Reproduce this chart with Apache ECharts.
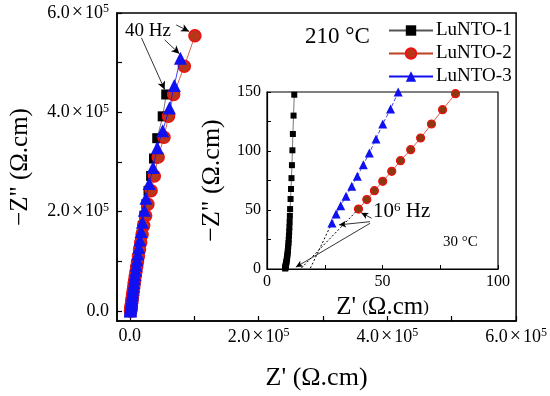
<!DOCTYPE html>
<html>
<head>
<meta charset="utf-8">
<script src="https://cdn.jsdelivr.net/npm/echarts@6/dist/echarts.min.js"></script>
<style>html,body{margin:0;padding:0;background:#fff}#c{width:550px;height:396px}</style>
</head>
<body>
<div id="c"></div>
<script>
// ---- data (main plot, 210 °C) : [Z', -Z''] in Ω.cm ----
const seriesNames = ['LuNTO-1', 'LuNTO-2', 'LuNTO-3'];
const main1 = [[56500,436000],[51000,392000],[42500,348000],[37500,307000],[33000,272000],[29000,242000],[25500,215000],[22500,192000],[20000,172000],[18000,154000],[16000,138000],[14300,124000],[12800,111000],[11400,99000],[10200,89000],[9100,79000],[8100,71000],[7200,63000],[6400,56000],[5700,49000],[5000,43000],[4500,37000],[4000,32000],[3500,27000],[3100,23000],[2700,19000],[2300,15000],[2000,12000],[1700,9000],[1500,6500],[1300,4500],[1100,2800],[1000,1500],[900,600],[800,100]];
const main2 = [[101000,554000],[84600,493000],[68000,436000],[60000,392000],[53000,350000],[44000,310000],[38000,272000],[33000,242000],[28000,215000],[24500,192000],[21500,172000],[19000,154000],[16800,138000],[15000,124000],[13300,111000],[11800,99000],[10500,89000],[9400,79000],[8400,71000],[7500,63000],[6700,56000],[6000,49000],[5300,43000],[4700,37000],[4200,32000],[3700,27000],[3300,23000],[2900,19000],[2500,15000],[2200,12000],[1900,9000],[1700,6500],[1500,4500],[1300,2800],[1200,1500],[1100,600],[1000,100]];
const main3 = [[78500,509000],[69000,454000],[61500,409000],[51000,363000],[42500,329000],[36000,289000],[30000,257000],[25000,227000],[22500,203000],[19500,179000],[17500,160000],[15500,143000],[14000,128000],[12500,115000],[11200,103000],[10000,92000],[9000,82000],[8000,73000],[7200,65000],[6400,57000],[5700,50000],[5000,44000],[4400,38000],[3800,33000],[3400,28000],[3000,24000],[2600,20000],[2200,16000],[1900,13000],[1600,10000],[1400,7500],[1200,5500],[1000,3500],[900,2000],[800,800],[700,200]];
// ---- data (inset, 30 °C) ----
const inset1 = [[11.8,147.7],[11.5,130],[11.2,114.4],[11.0,100.6],[10.8,88],[10.6,77],[10.4,67.8],[10.2,59.3],[10.0,50.8],[9.9,45],[9.8,40],[9.7,35.5],[9.6,31.5],[9.5,28],[9.4,24.8],[9.3,22],[9.2,19.5],[9.1,17.2],[9.0,15.1],[8.9,13.2],[8.8,11.5],[8.7,9.9],[8.6,8.5],[8.5,7.2],[8.4,6],[8.3,4.9],[8.2,3.9],[8.1,3],[8.0,2.2],[8.0,1.5],[7.9,0.9],[7.9,0.4]];
const inset2 = [[81.6,148.6],[76,135],[71.2,122.9],[66.5,111],[62.2,101.1],[57.8,91.8],[54,82.8],[50.1,74.3],[46.5,66.4],[43.2,58.8],[39.6,50.8]];
const inset3 = [[56.8,150],[53.5,135.6],[50.1,122.9],[47.2,110.2],[44.3,98.3],[41.7,88.4],[39.1,78.5],[36.7,70.1],[34.2,61.6],[31.9,53.7],[29.9,46.6],[28.1,39]];
// ---- ticks ----
const mainTicks = [0,100000,200000,300000,400000,500000,600000];
const mainLabels = [0,200000,400000,600000];
const insetXLabels = [0,50,100];
const insetYLabels = [0,50,100,150];
// ---- annotations (data coordinates) ----
const mainArrows = [[[18000,550000],[54000,446000]],[[54000,546000],[77000,518000]],[[72000,576000],[92000,563000]]];
const insetArrows = [[[45.3,43],[40.8,47.6]],[[44.6,40.1],[31.2,37.4]],[[44.6,38.7],[12.5,1.6]]];
const insetExtrap = [[[28.1,39],[18.6,0]],[[39.6,50.8],[14.5,0]]];

const FF = '"Liberation Serif","Times New Roman",serif';
const BLACK = '#000';
const RED_FILL = '#b8361a', RED_EDGE = '#ee1111';
const BLUE = '#1010f0';

function sci(v){
  if (v === 0) return '{a|0.0}';
  const m = (v/100000).toFixed(1);
  return '{a|' + m + '}{x|×}{a|10}{s|5}';
}
const sciRich = {
  a:{fontFamily:FF,fontSize:18,color:BLACK},
  x:{fontFamily:FF,fontSize:20,color:BLACK,padding:[0,2,0,2]},
  s:{fontFamily:FF,fontSize:12,color:BLACK,verticalAlign:'top'}
};

function arrowLines(list){ return list.map(p => [{coord:p[0]},{coord:p[1]}]); }

const chart = echarts.init(document.getElementById('c'), null, {renderer:'canvas'});
const option = {
  backgroundColor:'#fff',
  animation:false,
  textStyle:{fontFamily:FF},
  grid:[
    {left:117, top:13, width:400, height:310, show:true, borderColor:BLACK, borderWidth:1.5, backgroundColor:'transparent'},
    {left:267, top:92, width:231, height:177, show:true, borderColor:BLACK, borderWidth:1.2, backgroundColor:'#fff'}
  ],
  legend:{
    left:383, top:16, orient:'vertical', itemWidth:44, itemHeight:13, itemGap:4,
    textStyle:{fontFamily:FF, fontSize:19, color:BLACK, lineHeight:19, padding:[0,0,0,-2]},
    data:seriesNames
  },
  xAxis:[
    {gridIndex:0, type:'value', min:-20000, max:600000,
     axisLine:{show:true,onZero:false,lineStyle:{color:BLACK,width:1.5}},
     axisTick:{show:true,inside:true,length:5,customValues:mainTicks,lineStyle:{color:BLACK,width:1.2}},
     axisLabel:{customValues:mainLabels, margin:6, formatter:sci, rich:sciRich},
     splitLine:{show:false},
     name:'{n|Z\' (Ω.cm)}', nameLocation:'middle', nameGap:44,
     nameTextStyle:{rich:{n:{fontFamily:FF,fontSize:26,color:BLACK}}}},
    {gridIndex:1, type:'value', min:0, max:100, interval:25,
     axisLine:{show:true,onZero:false,lineStyle:{color:BLACK,width:1.2}},
     axisTick:{show:true,inside:true,length:4,lineStyle:{color:BLACK}},
     axisLabel:{customValues:insetXLabels, margin:5, fontFamily:FF, fontSize:16, color:BLACK},
     splitLine:{show:false},
     name:'{n|Z\' }{p|(}{n|Ω.cm}{p|)}', nameLocation:'middle', nameGap:26,
     nameTextStyle:{rich:{n:{fontFamily:FF,fontSize:25,color:BLACK},p:{fontFamily:FF,fontSize:17,color:BLACK}}}}
  ],
  yAxis:[
    {gridIndex:0, type:'value', min:-20000, max:600000,
     axisLine:{show:true,onZero:false,lineStyle:{color:BLACK,width:1.5}},
     axisTick:{show:true,inside:true,length:5,customValues:mainTicks,lineStyle:{color:BLACK,width:1.2}},
     axisLabel:{customValues:mainLabels, margin:8, formatter:sci, rich:sciRich},
     splitLine:{show:false},
     name:'−Z" (Ω.cm)', nameLocation:'middle', nameGap:84,
     nameTextStyle:{fontFamily:FF,fontSize:25,color:BLACK}},
    {gridIndex:1, type:'value', min:0, max:150, interval:25,
     axisLine:{show:true,onZero:false,lineStyle:{color:BLACK,width:1.2}},
     axisTick:{show:true,inside:true,length:4,lineStyle:{color:BLACK}},
     axisLabel:{customValues:insetYLabels, margin:6, fontFamily:FF, fontSize:16, color:BLACK},
     splitLine:{show:false},
     name:'−Z" (Ω.cm)', nameLocation:'middle', nameGap:42,
     nameTextStyle:{fontFamily:FF,fontSize:26,color:BLACK}}
  ],
  series:[
    {name:seriesNames[0], type:'line', xAxisIndex:0, yAxisIndex:0, data:main1,
     symbol:'rect', symbolSize:10, itemStyle:{color:BLACK}, lineStyle:{color:'#555',width:0.8}, z:2,
     markLine:{silent:true, symbol:['none','arrow'], symbolSize:[6,8], label:{show:false},
       lineStyle:{color:BLACK,width:0.8,type:'solid'}, data:arrowLines(mainArrows)}},
    {name:seriesNames[1], type:'line', xAxisIndex:0, yAxisIndex:0, data:main2,
     symbol:'circle', symbolSize:12, itemStyle:{color:RED_FILL,borderColor:RED_EDGE,borderWidth:1.5}, lineStyle:{color:'#c04020',width:0.8}, z:3},
    {name:seriesNames[2], type:'line', xAxisIndex:0, yAxisIndex:0, data:main3,
     symbol:'triangle', symbolSize:13, itemStyle:{color:BLUE}, lineStyle:{color:BLUE,width:0.8}, z:4},
    {name:seriesNames[0], type:'line', xAxisIndex:1, yAxisIndex:1, data:inset1,
     symbol:'rect', symbolSize:6, itemStyle:{color:BLACK}, lineStyle:{color:'#555',width:0.8}, z:5,
     markLine:{silent:true, symbol:['none','arrow'], symbolSize:[5,7], label:{show:false},
       lineStyle:{color:BLACK,width:0.8,type:'solid'}, data:arrowLines(insetArrows)}},
    {name:seriesNames[1], type:'line', xAxisIndex:1, yAxisIndex:1, data:inset2,
     symbol:'circle', symbolSize:8, itemStyle:{color:'#8a3a10',borderColor:RED_EDGE,borderWidth:1.2}, lineStyle:{color:'#e03020',width:0.8}, z:5,
     markLine:{silent:true, symbol:['none','none'], label:{show:false},
       lineStyle:{color:BLACK,width:1,type:[2,2]}, data:arrowLines(insetExtrap)}},
    {name:seriesNames[2], type:'line', xAxisIndex:1, yAxisIndex:1, data:inset3,
     symbol:'triangle', symbolSize:9, itemStyle:{color:BLUE}, lineStyle:{color:BLUE,width:0.8,type:[4,2]}, z:5}
  ],
  graphic:[
    {type:'text', left:125, top:22, z:100, style:{text:'40 Hz', font:'19px '+FF, fill:BLACK}},
    {type:'text', left:305, top:25, z:100, style:{text:'210 °C', font:'23px '+FF, fill:BLACK}},
    {type:'text', left:373, top:201, z:100, style:{text:'{a|10}{s|6}{a| Hz}', rich:{a:{fontFamily:FF,fontSize:21,fill:BLACK},s:{fontFamily:FF,fontSize:13,fill:BLACK,verticalAlign:'top'}}}},
    {type:'text', left:443, top:235, z:100, style:{text:'30 °C', font:'15px '+FF, fill:BLACK}}
  ]
};
chart.setOption(option);
</script>
</body>
</html>
